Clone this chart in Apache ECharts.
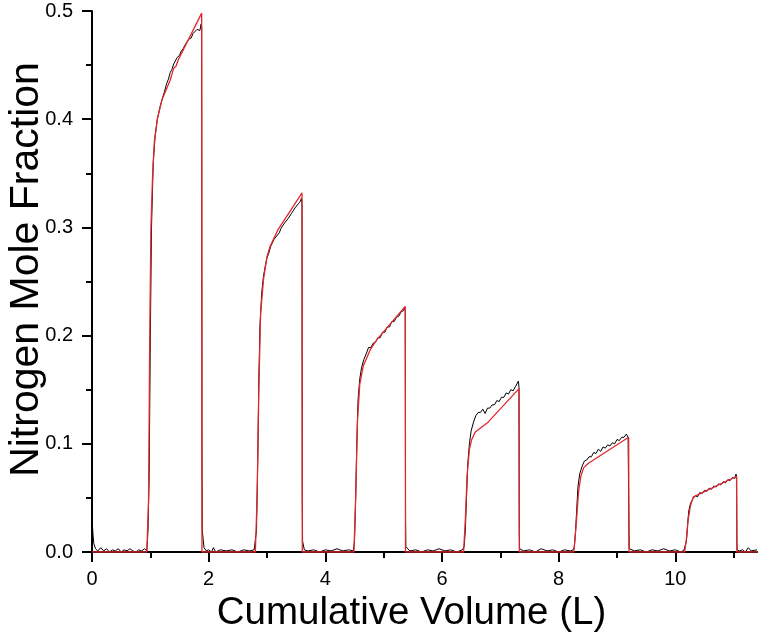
<!DOCTYPE html>
<html>
<head>
<meta charset="utf-8">
<script src="https://cdn.jsdelivr.net/npm/echarts@6/dist/echarts.min.js"></script>
<style>
html,body{margin:0;padding:0;background:#fff;}
#chart{width:759px;height:637px;}
</style>
</head>
<body>
<div id="chart"></div>
<script>
// ---- Data (Cumulative Volume L, Nitrogen mole fraction) ----
const xMajorTicks = [0, 2, 4, 6, 8, 10];
const xMinorTicks = [1, 3, 5, 7, 9, 11];

// Model curve (red)
const model = [
  [0,0],[0.94,0],[0.97,0.05],[0.99,0.2],[1.01,0.3],[1.04,0.35],[1.07,0.38],[1.12,0.400],[1.20,0.418],
  [1.34,0.436],[1.40,0.447],[1.44,0.449],[1.48,0.455],[1.88,0.498],[1.885,0],
  [2.80,0],[2.83,0.05],[2.86,0.15],[2.89,0.22],[2.94,0.252],[3.0,0.273],[3.05,0.282],[3.19,0.298],[3.60,0.332],[3.605,0],
  [4.49,0],[4.52,0.05],[4.55,0.12],[4.59,0.155],[4.65,0.172],[4.77,0.187],[4.88,0.196],[5.37,0.227],[5.375,0],
  [6.37,0],[6.40,0.03],[6.43,0.07],[6.47,0.095],[6.51,0.104],[6.57,0.111],[6.79,0.120],[7.32,0.151],[7.325,0],
  [8.26,0],[8.30,0.025],[8.34,0.055],[8.38,0.07],[8.43,0.078],[8.51,0.082],[9.20,0.106],[9.205,0],
  [10.16,0],[10.19,0.012],[10.22,0.03],[10.26,0.043],[10.31,0.051],[11.05,0.07],[11.055,0],[11.4,0]
];

// Measured trace (black), hand-read
const measuredBase0 = [[0,0.032],[0.015,0.018],[0.03,0.008],[0.06,0.003],[0.1,0.001],[0.15,0.004],[0.2,0.001],[0.25,0.003],[0.3,0.0],[0.35,0.002],[0.4,0.001],[0.45,0.003],[0.5,0.0],[0.55,0.002],[0.6,0.001],[0.65,0.003],[0.7,0.001],[0.75,0.0],[0.8,0.002],[0.85,0.001],[0.9,0.003],[0.94,0.001]];
const measuredPulse1 = [[0.96,0.02],[0.98,0.07],[1.0,0.2],[1.02,0.3],[1.05,0.36],[1.08,0.383],[1.12,0.400],[1.16,0.410],[1.20,0.418],[1.24,0.425],[1.28,0.433],[1.31,0.437],[1.34,0.443],[1.37,0.446],[1.40,0.451],[1.43,0.452],[1.46,0.457],[1.50,0.459],[1.53,0.463],[1.56,0.465],[1.60,0.469],[1.63,0.470],[1.66,0.474],[1.70,0.475],[1.73,0.479],[1.76,0.479],[1.80,0.483],[1.83,0.484],[1.85,0.482],[1.87,0.488],[1.88,0.485],[1.885,0.1],[1.89,0.02],[1.92,0.004]];
const measuredBase1 = [[1.96,0.001],[2.0,0.002],[2.05,0.0],[2.08,0.004],[2.12,0.0],[2.2,0.002],[2.3,0.001],[2.4,0.002],[2.5,0.0],[2.6,0.002],[2.7,0.001],[2.78,0.002],[2.81,0.001]];
const measuredPulse2 = [[2.82,0.02],[2.84,0.08],[2.86,0.16],[2.88,0.21],[2.91,0.24],[2.94,0.255],[2.97,0.264],[3.0,0.272],[3.03,0.276],[3.06,0.282],[3.09,0.283],[3.12,0.289],[3.15,0.290],[3.18,0.293],[3.21,0.295],[3.24,0.299],[3.27,0.299],[3.30,0.304],[3.33,0.304],[3.36,0.308],[3.39,0.308],[3.42,0.313],[3.45,0.313],[3.48,0.318],[3.51,0.318],[3.54,0.322],[3.57,0.324],[3.59,0.327],[3.60,0.322],[3.605,0.05],[3.61,0.01],[3.64,0.002]];
const measuredBase2 = [[3.7,0.001],[3.8,0.002],[3.9,0.0],[4.0,0.002],[4.1,0.001],[4.2,0.003],[4.3,0.001],[4.4,0.002],[4.48,0.001]];
const measuredPulse3 = [[4.50,0.01],[4.52,0.05],[4.54,0.1],[4.56,0.14],[4.59,0.16],[4.62,0.17],[4.66,0.178],[4.70,0.183],[4.74,0.189],[4.78,0.189],[4.82,0.193],[4.86,0.194],[4.90,0.198],[4.94,0.198],[4.98,0.203],[5.02,0.203],[5.06,0.208],[5.10,0.208],[5.14,0.213],[5.18,0.213],[5.22,0.217],[5.26,0.218],[5.30,0.222],[5.34,0.223],[5.36,0.226],[5.37,0.223],[5.375,0.03],[5.38,0.005]];
const measuredBase3 = [[5.45,0.001],[5.55,0.002],[5.65,0.0],[5.75,0.002],[5.85,0.001],[5.95,0.003],[6.05,0.001],[6.15,0.002],[6.25,0.0],[6.35,0.002]];
const measuredPulse4 = [[6.38,0.005],[6.40,0.02],[6.42,0.05],[6.44,0.08],[6.47,0.1],[6.50,0.112],[6.54,0.12],[6.58,0.126],[6.62,0.129],[6.66,0.129],[6.70,0.132],[6.74,0.128],[6.78,0.133],[6.82,0.133],[6.86,0.136],[6.90,0.136],[6.94,0.140],[6.98,0.139],[7.02,0.143],[7.06,0.143],[7.10,0.147],[7.14,0.146],[7.18,0.150],[7.22,0.149],[7.26,0.153],[7.29,0.154],[7.31,0.158],[7.32,0.152],[7.325,0.02],[7.33,0.003]];
const measuredBase4 = [[7.4,0.001],[7.5,0.002],[7.6,0.0],[7.7,0.003],[7.8,0.001],[7.9,0.002],[8.0,0.0],[8.1,0.002],[8.2,0.001],[8.25,0.002]];
const measuredPulse5 = [[8.27,0.005],[8.29,0.02],[8.31,0.04],[8.33,0.06],[8.36,0.072],[8.40,0.079],[8.44,0.084],[8.48,0.085],[8.52,0.088],[8.56,0.088],[8.60,0.092],[8.64,0.091],[8.68,0.095],[8.72,0.093],[8.76,0.097],[8.80,0.096],[8.84,0.099],[8.88,0.098],[8.92,0.101],[8.96,0.100],[9.00,0.104],[9.04,0.103],[9.08,0.106],[9.12,0.106],[9.16,0.109],[9.19,0.106],[9.205,0.02],[9.21,0.003]];
const measuredBase5 = [[9.3,0.001],[9.4,0.002],[9.5,0.0],[9.6,0.002],[9.7,0.001],[9.8,0.003],[9.9,0.001],[10.0,0.002],[10.1,0.0],[10.15,0.002]];
const measuredPulse6 = [[10.17,0.003],[10.19,0.01],[10.21,0.025],[10.23,0.038],[10.26,0.045],[10.30,0.049],[10.34,0.052],[10.38,0.051],[10.42,0.055],[10.46,0.054],[10.50,0.057],[10.54,0.056],[10.58,0.059],[10.62,0.058],[10.66,0.061],[10.70,0.060],[10.74,0.063],[10.78,0.062],[10.82,0.065],[10.86,0.064],[10.90,0.067],[10.94,0.066],[10.98,0.069],[11.02,0.068],[11.04,0.072],[11.05,0.070],[11.055,0.01],[11.06,0.002]];
const measuredBase6 = [[11.1,0.001],[11.15,0.002],[11.2,0.0],[11.25,0.004],[11.3,0.001],[11.4,0.002]];

const measured = [].concat(measuredBase0, measuredPulse1, measuredBase1, measuredPulse2, measuredBase2,
  measuredPulse3, measuredBase3, measuredPulse4, measuredBase4, measuredPulse5, measuredBase5, measuredPulse6, measuredBase6);

const FONT = "'Liberation Sans', Arial, sans-serif";
const chart = echarts.init(document.getElementById('chart'), null, {renderer: 'canvas'});
chart.setOption({
  animation: false,
  backgroundColor: '#fff',
  grid: {left: 92, right: 2, top: 11, bottom: 85, containLabel: false, outerBoundsMode: 'none'},
  xAxis: [{
    type: 'value', min: 0, max: 11.4, interval: 2,
    name: 'Cumulative Volume (L)', nameLocation: 'middle', nameGap: 42, nameMoveOverlap: false,
    nameTextStyle: {fontFamily: FONT, fontSize: 38.5, color: '#000', verticalAlign: 'top', padding: [0, 26, 0, 0]},
    axisLine: {show: true, onZero: false, lineStyle: {color: '#000', width: 2}},
    axisTick: {show: true, inside: false, length: 10, lineStyle: {color: '#000', width: 2}, customValues: xMajorTicks},
    axisLabel: {fontFamily: FONT, fontSize: 20, color: '#000', margin: 17, customValues: xMajorTicks},
    splitLine: {show: false}
  }, {
    type: 'value', min: 0, max: 11.4, interval: 1, position: 'bottom',
    axisLine: {show: false},
    axisTick: {show: true, inside: false, length: 6, lineStyle: {color: '#000', width: 2}, customValues: xMinorTicks},
    axisLabel: {show: false},
    splitLine: {show: false}
  }],
  yAxis: {
    type: 'value', min: 0, max: 0.5, interval: 0.1,
    name: 'Nitrogen Mole Fraction', nameLocation: 'middle', nameGap: 45, nameRotate: 90, nameMoveOverlap: false,
    nameTextStyle: {fontFamily: FONT, fontSize: 41, color: '#000', padding: [0, 0, 0, 24]},
    axisLine: {show: true, onZero: false, lineStyle: {color: '#000', width: 2}},
    axisTick: {show: true, inside: false, length: 10, lineStyle: {color: '#000', width: 2}},
    minorTick: {show: true, splitNumber: 2, length: 6, lineStyle: {color: '#000', width: 2}},
    axisLabel: {fontFamily: FONT, fontSize: 20, color: '#000', margin: 19, formatter: v => v.toFixed(1)},
    splitLine: {show: false}
  },
  series: [{
    name: 'Measured', type: 'line', xAxisIndex: 0, data: measured, showSymbol: false,
    lineStyle: {color: '#000', width: 1}, z: 2
  }, {
    name: 'Model', type: 'line', xAxisIndex: 0, data: model, showSymbol: false,
    lineStyle: {color: '#e3262e', width: 1.3}, z: 3
  }]
});
</script>
</body>
</html>
